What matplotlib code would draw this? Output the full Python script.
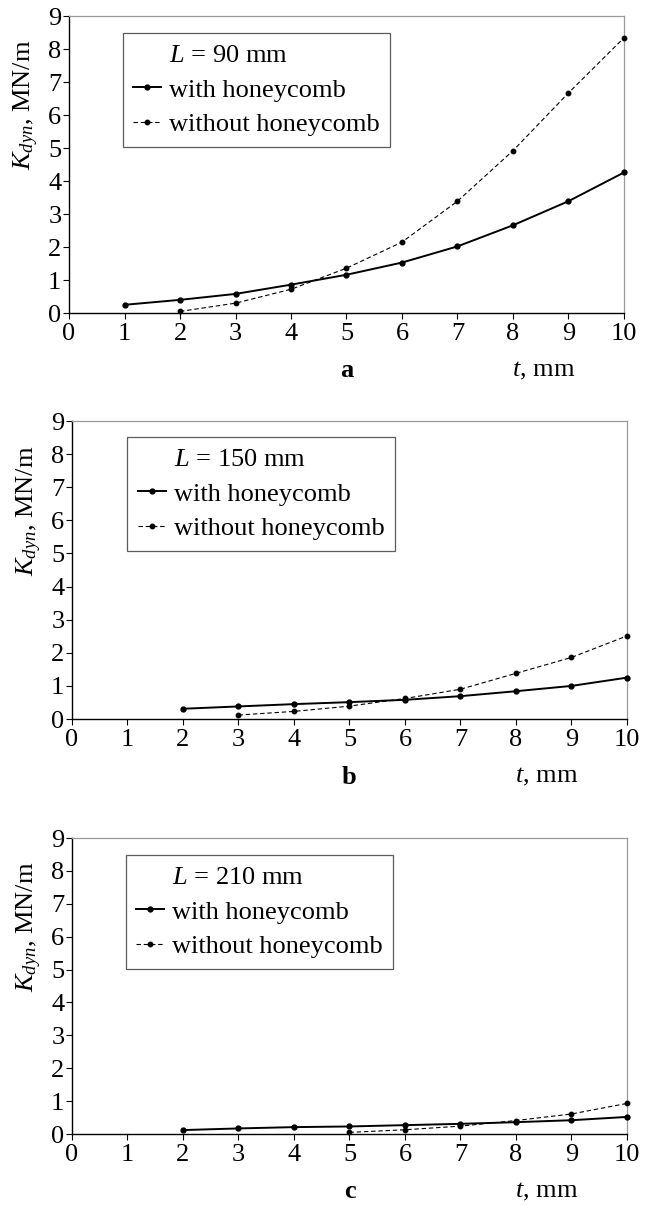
#!/usr/bin/env python3

"""
Dynamic stiffness K_dyn vs thickness t for three lengths L,
with and without honeycomb. Three stacked panels a, b, c.
"""

import matplotlib
matplotlib.use('Agg')
import matplotlib.pyplot as plt
from matplotlib.transforms import blended_transform_factory

#fonts: Times-like serif everywhere
plt.rcParams['font.family'] = ['Liberation Serif', 'DejaVu Serif']
plt.rcParams['mathtext.fontset'] = 'custom'
plt.rcParams['mathtext.rm'] = 'Liberation Serif'
plt.rcParams['mathtext.it'] = 'Liberation Serif:italic'
FS = 19 #font size used for every text

#data
t_a_with = [1, 2, 3, 4, 5, 6, 7, 8, 9, 10]
k_a_with = [0.25, 0.40, 0.58, 0.86, 1.16, 1.53, 2.02, 2.66, 3.39, 4.26]
t_a_without = [2, 3, 4, 5, 6, 7, 8, 9, 10]
k_a_without = [0.05, 0.30, 0.72, 1.36, 2.15, 3.39, 4.92, 6.67, 8.34]

t_b_with = [2, 3, 4, 5, 6, 7, 8, 9, 10]
k_b_with = [0.31, 0.38, 0.45, 0.51, 0.58, 0.69, 0.84, 1.00, 1.25]
t_b_without = [3, 4, 5, 6, 7, 8, 9, 10]
k_b_without = [0.12, 0.23, 0.39, 0.62, 0.90, 1.38, 1.86, 2.51]

t_c_with = [2, 3, 4, 5, 6, 7, 8, 9, 10]
k_c_with = [0.12, 0.17, 0.21, 0.23, 0.27, 0.31, 0.36, 0.42, 0.52]
t_c_without = [5, 6, 7, 8, 9, 10]
k_c_without = [0.05, 0.13, 0.24, 0.41, 0.61, 0.93]

panel_letters = ['a', 'b', 'c']
lengths = ['90', '150', '210']
x_ticks = list(range(0, 11))
y_ticks = list(range(0, 10))

#axes rectangles in figure fractions
RECTS = [
    [0.1044, 0.7402, 0.8396, 0.2465],
    [0.1089, 0.4033, 0.8396, 0.2473],
    [0.1089, 0.0589, 0.8396, 0.2456],
]
LEGEND_ANCHORS = [(0.097, 0.943), (0.100, 0.946), (0.097, 0.943)]


def draw_panel(fig, rect, series, letter, length, anchor):
    ax = fig.add_axes(rect)
    (tw, kw), (to, ko) = series

    ax.plot([], [], color='none', label=r'$L$ = ' + length + ' mm')
    ax.plot(tw, kw, color='black', lw=1.4, marker='o', ms=3.5,
            label='with honeycomb', clip_on=False, zorder=3)
    ax.plot(to, ko, color='black', lw=0.8, ls=(0, (4, 2.5)), marker='o',
            ms=3.2, label='without honeycomb', clip_on=False, zorder=3)

    ax.set_xlim(0, 10)
    ax.set_ylim(0, 9)
    ax.set_xticks(x_ticks)
    ax.set_yticks(y_ticks)
    ax.tick_params(direction='out', length=4, width=0.8, labelsize=FS,
                   color='black')
    ax.tick_params(axis='x', pad=3.5)
    ax.tick_params(axis='y', pad=1.5)

    for side in ['top', 'right']:
        ax.spines[side].set_color('#999999')
        ax.spines[side].set_linewidth(0.9)
    for side in ['left', 'bottom']:
        ax.spines[side].set_color('black')
        ax.spines[side].set_linewidth(1.0)

    ax.set_ylabel(r'$K_{dyn}$, MN/m', fontsize=FS)
    ax.yaxis.set_label_coords(-0.05, 0.70)

    trans = blended_transform_factory(ax.transData, ax.transAxes)
    ax.text(5, -0.195, letter, transform=trans, ha='center', va='center',
            fontsize=FS, fontweight='bold')
    ax.text(8.55, -0.195, r'$t$, mm', transform=trans, ha='center',
            va='center', fontsize=FS)

    leg = ax.legend(loc='upper left', bbox_to_anchor=anchor,
                    borderaxespad=0, fontsize=FS, frameon=True,
                    fancybox=False, handlelength=1.05, handletextpad=0.3,
                    borderpad=0.4, labelspacing=0.42)
    leg.get_frame().set_edgecolor('#333333')
    leg.get_frame().set_linewidth(0.9)
    return ax


def main():
    fig = plt.figure(figsize=(6.61, 12.05), dpi=100)

    all_series = [
        ((t_a_with, k_a_with), (t_a_without, k_a_without)),
        ((t_b_with, k_b_with), (t_b_without, k_b_without)),
        ((t_c_with, k_c_with), (t_c_without, k_c_without)),
    ]

    for rect, series, letter, length, anchor in zip(
            RECTS, all_series, panel_letters, lengths, LEGEND_ANCHORS):
        draw_panel(fig, rect, series, letter, length, anchor)

    fig.savefig('out.png', dpi=100)


if __name__ == '__main__':
    main()
